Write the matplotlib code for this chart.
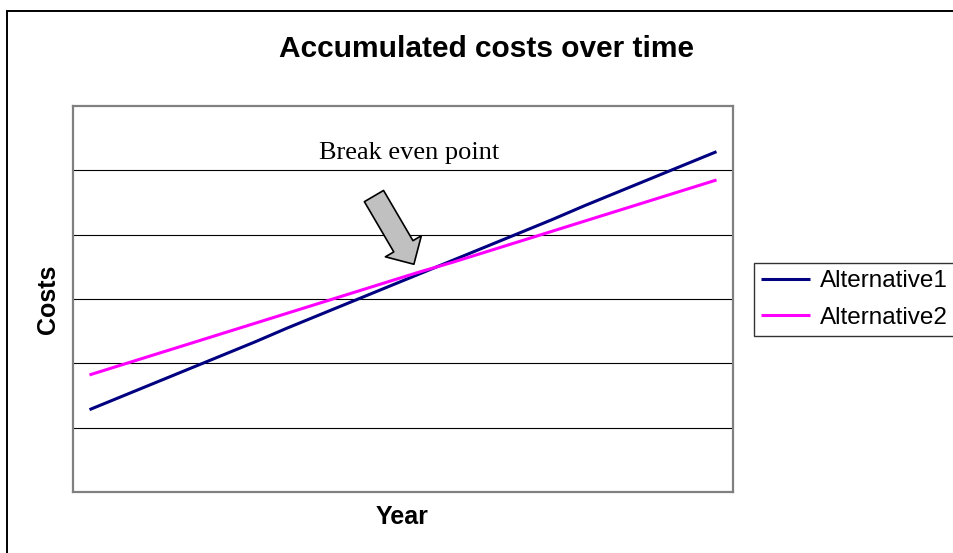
import numpy as np
import matplotlib
matplotlib.use("Agg")
import matplotlib.pyplot as plt
from matplotlib.patches import Rectangle

# ==== data ==== #
years = np.arange(1, 21)
alt1 = [12.8, 14.9, 17.0, 19.1, 21.2, 23.3, 25.5, 27.6, 29.7, 31.8,
        33.9, 36.0, 38.1, 40.2, 42.3, 44.5, 46.6, 48.7, 50.8, 52.9]
alt2 = [18.2, 19.8, 21.4, 23.0, 24.6, 26.2, 27.8, 29.4, 31.0, 32.6,
        34.2, 35.7, 37.3, 38.9, 40.5, 42.1, 43.7, 45.3, 46.9, 48.5]
labels = ["Alternative1", "Alternative2"]
colors = ["#000080", "#FF00FF"]

plt.rcParams['font.family'] = ['Liberation Sans', 'DejaVu Sans']

fig = plt.figure(figsize=(9.54, 5.53), dpi=100)
W, H = 954, 553

# outer chart border (runs off the right/bottom edge)
fig.patches.append(Rectangle((7 / W, -0.05), 1.1, 1 - 11 / H + 0.05,
                             transform=fig.transFigure, fill=False,
                             edgecolor='black', linewidth=1.4))

ax = fig.add_axes([73 / W, 1 - 492 / H, 660 / W, 386 / H])
for y, c, lab in zip([alt1, alt2], colors, labels):
    ax.plot(years, y, color=c, linewidth=2.2, label=lab, solid_capstyle='butt')

ax.set_xlim(0.5, 20.5)
ax.set_ylim(0, 60)
ax.set_yticks(np.arange(10, 60, 10))
ax.set_xticks([])
ax.yaxis.grid(True, color='black', linewidth=0.8)
ax.tick_params(axis='y', length=0, labelleft=False)
for s in ax.spines.values():
    s.set_color('#808080')
    s.set_linewidth(1.6)

fig.text(402 / W, 1 - 517 / H, "Year", ha='center', va='center',
         fontsize=18, fontweight='bold')
fig.text(48 / W, 1 - 299 / H, "Costs", ha='center', va='center',
         fontsize=18, fontweight='bold', rotation=90)
fig.text(487 / W, 1 - 49 / H, "Accumulated costs over time",
         ha='center', va='center', fontsize=21.5, fontweight='bold')

# break even annotation
ax.text(10.7, 52.7, "Break even point", ha='center', va='center',
        fontsize=19, family='Liberation Serif')
ax.annotate('', xy=(10.83, 35.4), xytext=(9.62, 46.0),
            arrowprops=dict(arrowstyle='simple,head_width=3.0,head_length=1.5,tail_width=1.6',
                            fc='#C0C0C0', ec='black', lw=1.2,
                            shrinkA=0, shrinkB=0))

leg = fig.legend(loc='upper left', bbox_to_anchor=(754 / W, 1 - 263 / H),
                 borderaxespad=0, fontsize=17.5, frameon=True, fancybox=False,
                 edgecolor='black', handlelength=2.0, handletextpad=0.4,
                 labelspacing=0.6, borderpad=0.3)
leg.get_frame().set_linewidth(1.0)

fig.savefig("out.png", dpi=100)
